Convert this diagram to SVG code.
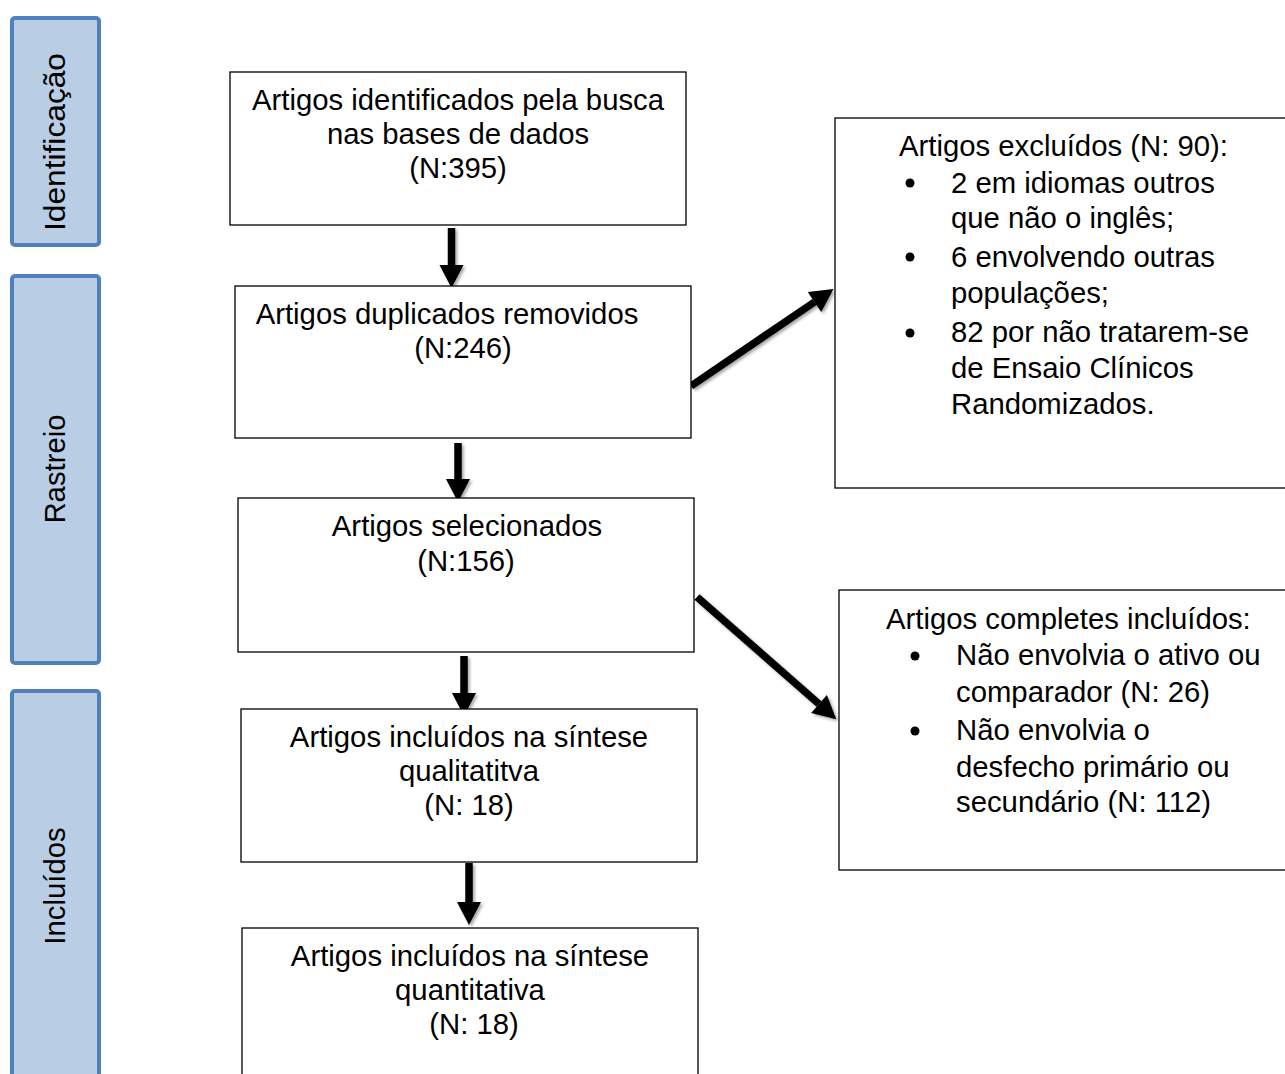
<svg xmlns="http://www.w3.org/2000/svg" width="1285" height="1074" viewBox="0 0 1285 1074">
<style>
.t{font-family:"Liberation Sans",Arial,sans-serif;font-size:29.3px;fill:#000}
.m{text-anchor:middle}
.box{fill:#fff;stroke:#000;stroke-width:1.3}
.bar{fill:#B9CDE5;stroke:#4F81BD;stroke-width:4}
.arr{stroke:#000;stroke-width:7.5;fill:none;marker-end:url(#ah)}
</style>
<defs>
<marker id="ah" markerUnits="userSpaceOnUse" markerWidth="26" markerHeight="26" refX="0" refY="12" orient="auto" overflow="visible">
<path d="M0,0 L23,12 L0,24 z" fill="#000"/>
</marker>
<filter id="sh" x="-20%" y="-20%" width="140%" height="140%">
<feDropShadow dx="2" dy="2" stdDeviation="1.5" flood-color="#000" flood-opacity="0.35"/>
</filter>
</defs>
<rect width="1285" height="1074" fill="#fff"/>

<g id="bar-identificacao">
<rect class="bar" x="12" y="18" width="87" height="227" rx="3"/>
<text class="t m" transform="translate(65,142) rotate(-90)" textLength="178" lengthAdjust="spacingAndGlyphs">Identificação</text>
</g>
<g id="bar-rastreio">
<rect class="bar" x="12" y="276" width="87" height="387" rx="3"/>
<text class="t m" transform="translate(65,469) rotate(-90)">Rastreio</text>
</g>
<g id="bar-incluidos">
<rect class="bar" x="12" y="691" width="87" height="400" rx="3"/>
<text class="t m" transform="translate(65,886) rotate(-90)">Incluídos</text>
</g>

<g id="connectors" filter="url(#sh)">
<line class="arr" x1="451.5" y1="228" x2="451.5" y2="265"/>
<line class="arr" x1="458" y1="443" x2="458" y2="479"/>
<line class="arr" x1="464" y1="656" x2="464" y2="693"/>
<line class="arr" x1="469" y1="863" x2="469" y2="902"/>
<line class="arr" x1="691" y1="386" x2="814.5" y2="302"/>
<line class="arr" x1="697" y1="597" x2="819" y2="704"/>
</g>

<g id="box-identificados">
<rect class="box" x="230" y="72" width="456" height="153"/>
<text class="t m" x="458" y="110">Artigos identificados pela busca</text>
<text class="t m" x="458" y="144">nas bases de dados</text>
<text class="t m" x="458" y="178">(N:395)</text>
</g>
<g id="box-duplicados">
<rect class="box" x="235" y="286" width="456" height="152"/>
<text class="t m" x="447" y="324">Artigos duplicados removidos</text>
<text class="t m" x="463" y="358">(N:246)</text>
</g>
<g id="box-selecionados">
<rect class="box" x="238" y="498" width="456" height="154"/>
<text class="t m" x="467" y="536">Artigos selecionados</text>
<text class="t m" x="466" y="571">(N:156)</text>
</g>
<g id="box-qualitativa">
<rect class="box" x="241" y="709" width="456" height="153"/>
<text class="t m" x="469" y="747">Artigos incluídos na síntese</text>
<text class="t m" x="469" y="781">qualitatitva</text>
<text class="t m" x="469" y="815">(N: 18)</text>
</g>
<g id="box-quantitativa">
<rect class="box" x="242" y="928" width="456" height="160"/>
<text class="t m" x="470" y="966">Artigos incluídos na síntese</text>
<text class="t m" x="470" y="1000">quantitativa</text>
<text class="t m" x="474" y="1034">(N: 18)</text>
</g>

<g id="box-excluidos">
<rect class="box" x="835" y="118" width="460" height="370"/>
<text class="t" x="899" y="156">Artigos excluídos (N: 90):</text>
<circle cx="910" cy="183" r="4.5"/>
<text class="t" x="951" y="193">2 em idiomas outros</text>
<text class="t" x="951" y="228">que não o inglês;</text>
<circle cx="910" cy="257" r="4.5"/>
<text class="t" x="951" y="267">6 envolvendo outras</text>
<text class="t" x="951" y="303">populações;</text>
<circle cx="910" cy="333" r="4.5"/>
<text class="t" x="951" y="342">82 por não tratarem-se</text>
<text class="t" x="951" y="378">de Ensaio Clínicos</text>
<text class="t" x="951" y="414">Randomizados.</text>
</g>
<g id="box-completos">
<rect class="box" x="839" y="590" width="456" height="280"/>
<text class="t" x="886" y="629">Artigos completes incluídos:</text>
<circle cx="915" cy="656" r="4.5"/>
<text class="t" x="956" y="665">Não envolvia o ativo ou</text>
<text class="t" x="956" y="702">comparador (N: 26)</text>
<circle cx="915" cy="731" r="4.5"/>
<text class="t" x="956" y="740">Não envolvia o</text>
<text class="t" x="956" y="777">desfecho primário ou</text>
<text class="t" x="956" y="812">secundário (N: 112)</text>
</g>
</svg>
